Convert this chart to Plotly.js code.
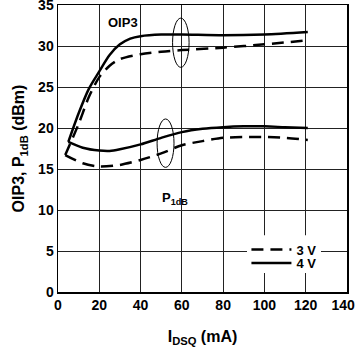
<!DOCTYPE html>
<html>
<head>
<meta charset="utf-8">
<script src="https://cdn.plot.ly/plotly-3.0.1.min.js"></script>
<style>
  html, body { margin: 0; padding: 0; background: #fff; }
  #chart { width: 357px; height: 350px; }
</style>
</head>
<body>
<div id="chart"></div>
<script>
// Drain quiescent current sweep (mA) and measured OIP3 / P1dB (dBm)
const oip3_4v_x = [5, 10, 15, 20, 25, 30, 35, 40, 50, 60, 80, 100, 121];
const oip3_4v_y = [18.3, 21.8, 24.8, 26.9, 28.9, 30.2, 30.9, 31.2, 31.4, 31.4, 31.3, 31.4, 31.7];

const oip3_3v_x = [3.5, 10, 15, 20, 25, 30, 40, 50, 60, 80, 100, 121];
const oip3_3v_y = [16.7, 20.5, 23.8, 26.2, 27.6, 28.4, 29.0, 29.3, 29.5, 29.8, 30.2, 30.7];

const p1db_4v_x = [5, 12, 20, 25, 30, 40, 50, 60, 70, 80, 90, 100, 110, 121];
const p1db_4v_y = [18.3, 17.6, 17.25, 17.2, 17.4, 18.0, 18.8, 19.5, 19.9, 20.1, 20.2, 20.2, 20.1, 20.0];

const p1db_3v_x = [3.5, 12, 20, 30, 40, 50, 60, 70, 80, 90, 100, 110, 121];
const p1db_3v_y = [16.7, 15.7, 15.3, 15.5, 16.1, 16.9, 17.9, 18.4, 18.8, 18.9, 18.9, 18.8, 18.55];

const xTicks = [0, 20, 40, 60, 80, 100, 120, 140];
// last label is nudged inward so it stays inside the page edge
const xTickText = ['0', '20', '40', '60', '80', '100', '120', '140\u00a0\u00a0'];
const yTicks = [0, 5, 10, 15, 20, 25, 30, 35];

// Ellipses grouping the two voltage curves of each parameter: [x0, x1, y0, y1]
const oip3Ring = [55.5, 63.5, 27.4, 33.4];
const p1dbRing = [48, 56.2, 15.2, 21.1];

const solid = { color: '#000', width: 2.5, shape: 'spline', smoothing: 0.8 };
const dashed = { color: '#000', width: 2.5, dash: '12px,7px', shape: 'spline', smoothing: 0.8 };

const traces = [
  { x: oip3_3v_x, y: oip3_3v_y, mode: 'lines', line: dashed, name: '3 V', legend: 'legend' },
  { x: oip3_4v_x, y: oip3_4v_y, mode: 'lines', line: solid, name: '4 V', legend: 'legend2' },
  { x: p1db_3v_x, y: p1db_3v_y, mode: 'lines', line: dashed, name: '3 V', showlegend: false },
  { x: p1db_4v_x, y: p1db_4v_y, mode: 'lines', line: solid, name: '4 V', showlegend: false }
];

const family = 'Arial, "Liberation Sans", sans-serif';
function bold(size) { return { family: family, size: size, weight: 'bold', color: '#000' }; }

function ring(r) {
  return { type: 'circle', xref: 'x', yref: 'y', x0: r[0], x1: r[1], y0: r[2], y1: r[3],
           line: { color: '#000', width: 1 }, fillcolor: 'rgba(0,0,0,0)' };
}

// Two single-entry legends stacked tightly; a white panel behind them masks the grid
function legendBox(y) {
  return { x: 0.652, y: y, xanchor: 'left', yanchor: 'middle',
           bgcolor: 'rgba(0,0,0,0)', borderwidth: 0, font: bold(13), itemwidth: 40 };
}
const legendPanel = { type: 'rect', xref: 'paper', yref: 'paper', layer: 'above',
                      x0: 0.654, x1: 0.910, y0: 0.066, y1: 0.198,
                      line: { width: 0 }, fillcolor: '#fff' };

const layout = {
  width: 357, height: 350,
  margin: { l: 58, r: 10, t: 5, b: 58 },
  paper_bgcolor: '#fff', plot_bgcolor: '#fff',
  showlegend: true,
  legend: legendBox(0.1476),
  legend2: legendBox(0.1007),
  xaxis: {
    range: [0, 140], tickvals: xTicks, ticktext: xTickText,
    showgrid: true, gridcolor: '#222', gridwidth: 1,
    showline: true, linecolor: '#000', linewidth: 1.5, mirror: true,
    zeroline: false, ticks: '', ticklabeloverflow: 'allow',
    tickfont: bold(14),
    title: { text: 'I<sub>DSQ</sub> (mA)', standoff: 18, font: bold(16) }
  },
  yaxis: {
    range: [0, 35], tickvals: yTicks, ticktext: yTicks.map(String),
    showgrid: true, gridcolor: '#222', gridwidth: 1,
    showline: true, linecolor: '#000', linewidth: 1.5, mirror: true,
    zeroline: false, ticks: '', ticklabeloverflow: 'allow',
    tickfont: bold(14),
    title: { text: 'OIP3, P<sub>1dB</sub> (dBm)', standoff: 9, font: bold(16) }
  },
  shapes: [ring(oip3Ring), ring(p1dbRing), legendPanel],
  annotations: [
    { x: 31.5, y: 32.9, xref: 'x', yref: 'y', text: 'OIP3', showarrow: false, font: bold(13) },
    { x: 56.5, y: 11.4, xref: 'x', yref: 'y', text: 'P<sub>1dB</sub>', showarrow: false, font: bold(13) }
  ]
};

Plotly.newPlot('chart', traces, layout, { displayModeBar: false, staticPlot: true });
</script>
</body>
</html>
